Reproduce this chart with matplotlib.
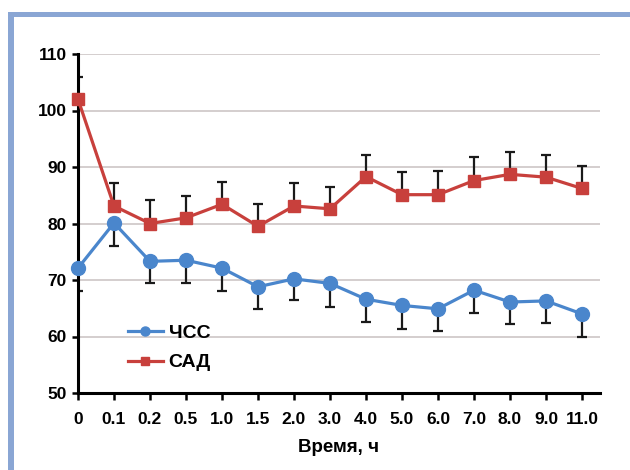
import matplotlib
matplotlib.use("Agg")
import matplotlib.pyplot as plt
from matplotlib.lines import Line2D
from matplotlib.patches import Rectangle
import numpy as np

plt.rcParams['font.family'] = ['Liberation Sans', 'DejaVu Sans']

time_labels = ["0", "0.1", "0.2", "0.5", "1.0", "1.5", "2.0", "3.0", "4.0",
               "5.0", "6.0", "7.0", "8.0", "9.0", "11.0"]
chss = [72.1, 80.1, 73.3, 73.5, 72.1, 68.8, 70.2, 69.4, 66.6, 65.5, 64.9, 68.2, 66.1, 66.3, 64.0]
chss_err = [4.0, 4.0, 3.9, 4.0, 4.1, 3.9, 3.7, 4.1, 4.0, 4.1, 3.9, 4.0, 3.8, 3.9, 4.0]
sad = [102.0, 83.1, 80.0, 81.0, 83.4, 79.5, 83.1, 82.6, 88.3, 85.1, 85.1, 87.6, 88.7, 88.2, 86.2]
sad_err = [4.0, 4.0, 4.1, 3.9, 4.0, 3.9, 4.0, 3.9, 3.9, 4.1, 4.2, 4.1, 3.9, 4.0, 3.9]
yticks = [50, 60, 70, 80, 90, 100, 110]

blue = '#4a86cc'
red = '#c8403c'

fig = plt.figure(figsize=(6.3, 4.7), dpi=100)
fig.patch.set_facecolor('white')

# decorative frame (cut off on right and bottom)
fig.patches.append(Rectangle((8/630, 0), 6/630, 1 - 12/470, transform=fig.transFigure,
                             facecolor='#8aa6d4', edgecolor='none', zorder=0))
fig.patches.append(Rectangle((8/630, 1 - 17/470), 1 - 8/630, 5/470, transform=fig.transFigure,
                             facecolor='#8aa6d4', edgecolor='none', zorder=0))

ax = fig.add_axes([78/630, 1 - 393/470, (600 - 78)/630, (393 - 54)/470])
x = np.arange(len(time_labels))

for yv in yticks[1:]:
    ax.axhline(yv, color='#cdc6c6', lw=1.2, zorder=1)

# error bars: red upward, blue downward
ax.errorbar(x, sad, yerr=[np.zeros(len(sad)), sad_err], fmt='none', ecolor='#1a1a1a',
            elinewidth=1.6, capsize=3.5, capthick=1.6, zorder=2)
ax.errorbar(x, chss, yerr=[chss_err, np.zeros(len(chss))], fmt='none', ecolor='#1a1a1a',
            elinewidth=1.6, capsize=3.5, capthick=1.6, zorder=2)

ax.plot(x, sad, color=red, lw=2.3, marker='s', markersize=9, zorder=3, clip_on=False)
ax.plot(x, chss, color=blue, lw=2.3, marker='o', markersize=10, zorder=3, clip_on=False)

ax.set_xlim(0, 14.5)
ax.set_ylim(50, 110)
ax.set_xticks(x)
ax.set_xticklabels(time_labels, fontsize=12.5, fontweight='bold')
ax.set_yticks(yticks)
ax.set_yticklabels([str(v) for v in yticks], fontsize=12.5, fontweight='bold')
ax.tick_params(axis='x', direction='out', length=5, width=1.8, color='black', pad=9)
ax.tick_params(axis='y', direction='out', length=4, width=1.8, color='black', pad=4)

for s in ['top', 'right']:
    ax.spines[s].set_visible(False)
for s in ['left', 'bottom']:
    ax.spines[s].set_linewidth(2.2)
    ax.spines[s].set_color('black')

ax.set_xlabel('Время, ч', fontsize=13.5, fontweight='bold', labelpad=8)

handles = [Line2D([0], [0], color=blue, lw=2.3, marker='o', markersize=6.5),
           Line2D([0], [0], color=red, lw=2.3, marker='s', markersize=6)]
leg = ax.legend(handles, ['ЧСС', 'САД'], loc='lower left', bbox_to_anchor=(0.062, 0.012),
                frameon=False, prop={'size': 14, 'weight': 'bold'}, handlelength=1.8,
                handletextpad=0.3, labelspacing=0.6, borderpad=0.4)

fig.savefig('out.png', dpi=100, facecolor='white')
